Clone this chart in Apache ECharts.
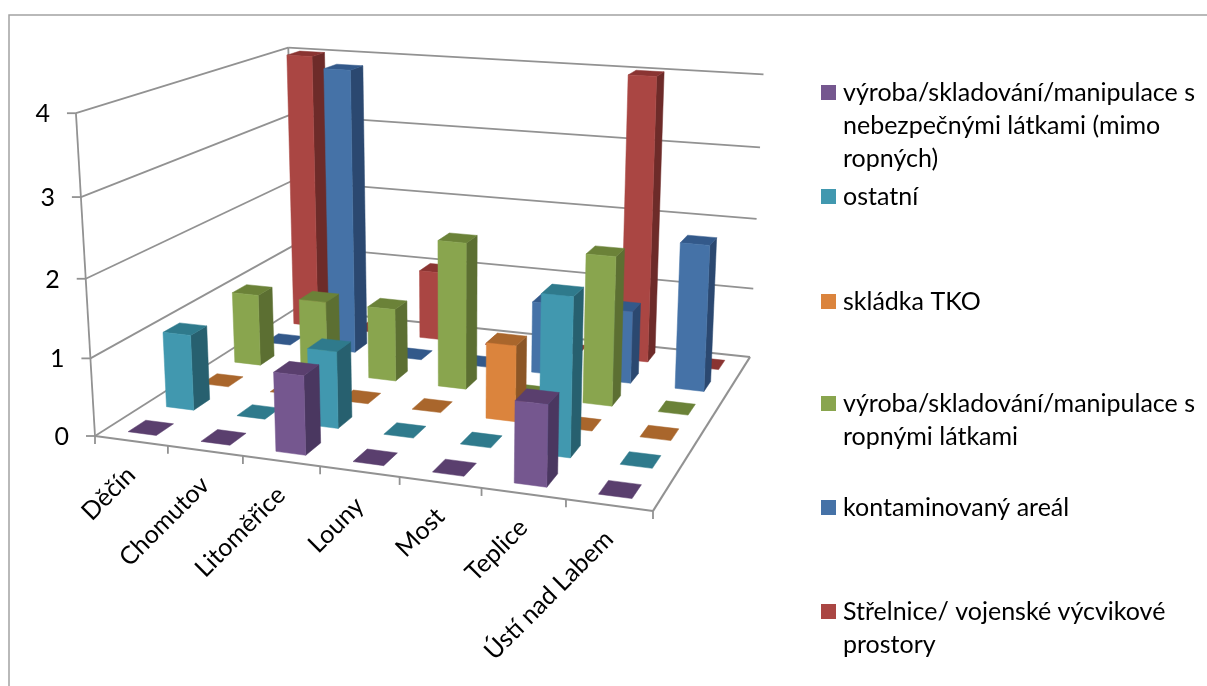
<!DOCTYPE html>
<html lang="cs">
<head>
<meta charset="utf-8">
<style>
  html, body { margin: 0; padding: 0; background: #fff; overflow: hidden; }
  #chart { width: 1207px; height: 686px; }
</style>
<script src="https://cdn.jsdelivr.net/npm/echarts@6/dist/echarts.min.js"></script>
</head>
<body>
<div id="chart"></div>
<script>
// Kategorie (okresy) a hodnoty jednotlivých řad
const categories = ['Děčín', 'Chomutov', 'Litoměřice', 'Louny', 'Most', 'Teplice', 'Ústí nad Labem'];
const valueTicks = [0, 1, 2, 3, 4];

const vyrobaNebezpecne = [0, 0, 1, 0, 0, 1, 0];
const ostatni          = [1, 0, 1, 0, 0, 2, 0];
const skladkaTko       = [0, 0, 0, 0, 1, 0, 0];
const vyrobaRopne      = [1, 1, 1, 2, 0, 2, 0];
const kontaminovany    = [0, 4, 0, 0, 1, 1, 2];
const strelnice        = [4, 0, 1, 0, 0, 4, 0];

const seriesNames = [
  'výroba/skladování/manipulace s\nnebezpečnými látkami (mimo\nropných)',
  'ostatní',
  'skládka TKO',
  'výroba/skladování/manipulace s\nropnými látkami',
  'kontaminovaný areál',
  'Střelnice/ vojenské výcvikové\nprostory'
];
const seriesValues = [vyrobaNebezpecne, ostatni, skladkaTko, vyrobaRopne, kontaminovany, strelnice];

// Barvy stěn sloupců: přední, horní, boční
const faceColors = [
  ['#75578f', '#5a3f6e', '#4a3760'],
  ['#4198af', '#2f7a8c', '#27606f'],
  ['#db843d', '#a9662c', '#8c5626'],
  ['#89a54e', '#6b8238', '#5c6f32'],
  ['#4572a7', '#33598a', '#2b4870'],
  ['#aa4643', '#8a3432', '#6d2b29']
];

const legendTops = [80, 184, 289, 391, 495, 599];

const W = 1207, H = 686;
const FONT = 'Lato, "Open Sans", sans-serif';
const AXIS_COLOR = '#929292';

// Rohy kvádru grafu v obraze: podlaha a horní hrana
const floorCorners = [[95, 436], [653, 511], [750, 357], [295, 309]];
const topCorners = [
  { x: 0, d: 0, p: [77, 113] },
  { x: 0, d: 1, p: [287, 49] },
  { x: 1, d: 1, p: [764, 73] }
];

// Perspektivní projekce podlahy (jednotkový čtverec -> čtyřúhelník)
const floor = (function () {
  const [p0, p1, p2, p3] = floorCorners;
  const sx = p0[0] - p1[0] + p2[0] - p3[0], sy = p0[1] - p1[1] + p2[1] - p3[1];
  const dx1 = p1[0] - p2[0], dx2 = p3[0] - p2[0], dy1 = p1[1] - p2[1], dy2 = p3[1] - p2[1];
  const det = dx1 * dy2 - dx2 * dy1;
  const g = (sx * dy2 - dx2 * sy) / det, h = (dx1 * sy - sx * dy1) / det;
  return {
    a: p1[0] - p0[0] + g * p1[0], b: p3[0] - p0[0] + h * p3[0], c: p0[0],
    d: p1[1] - p0[1] + g * p1[1], e: p3[1] - p0[1] + h * p3[1], f: p0[1],
    g, h
  };
})();

function floorHomog(x, d) {
  return [floor.a * x + floor.b * d + floor.c,
          floor.d * x + floor.e * d + floor.f,
          floor.g * x + floor.h * d + 1];
}

// Svislý sloupec projekce dopočítaný z horních rohů (nejmenší čtverce)
const vertical = (function () {
  const rows = [];
  topCorners.forEach(t => {
    const [u, v, w] = floorHomog(t.x, t.d);
    rows.push([1, 0, -t.p[0], t.p[0] * w - u]);
    rows.push([0, 1, -t.p[1], t.p[1] * w - v]);
  });
  const m = [[0, 0, 0, 0], [0, 0, 0, 0], [0, 0, 0, 0]];
  rows.forEach(r => {
    for (let i = 0; i < 3; i++) for (let j = 0; j < 4; j++) m[i][j] += r[i] * r[j];
  });
  for (let i = 0; i < 3; i++) {
    for (let k = i + 1; k < 3; k++) {
      const q = m[k][i] / m[i][i];
      for (let j = i; j < 4; j++) m[k][j] -= q * m[i][j];
    }
  }
  const s = [0, 0, 0];
  for (let i = 2; i >= 0; i--) {
    let t = m[i][3];
    for (let j = i + 1; j < 3; j++) t -= m[i][j] * s[j];
    s[i] = t / m[i][i];
  }
  return s;
})();

// x a d v rozsahu 0..1 (šířka, hloubka), z v rozsahu 0..1 (výška)
function project(x, d, z) {
  const [u, v, w] = floorHomog(x, d);
  const k = w + vertical[2] * z;
  return [(u + vertical[0] * z) / k, (v + vertical[1] * z) / k];
}

// Skrytá mřížka přes celé plátno převádí hodnoty na podíly os
function toUnit(api, cat, value) {
  const c = api.coord([cat, value]);
  return [c[0] / W, 1 - c[1] / H];
}

const BAR_WIDTH = 0.39;   // podíl šířky kategorie
const BAR_DEPTH = 0.45;   // podíl hloubky řady

function poly(points, fill) {
  return {
    type: 'polygon',
    shape: { points },
    style: { fill, stroke: fill, lineWidth: 0.5 }
  };
}

function barRenderer(depthIndex) {
  const colors = faceColors[depthIndex];
  return function (params, api) {
    const cat = api.value(0), val = api.value(1);
    const [cx, z] = toUnit(api, cat, val);
    const halfW = api.size([1, 0])[0] / W * BAR_WIDTH / 2;
    const dc = (depthIndex + 0.5) / seriesNames.length;
    const halfD = BAR_DEPTH / seriesNames.length / 2;
    const x0 = cx - halfW, x1 = cx + halfW, d0 = dc - halfD, d1 = dc + halfD;
    const top = poly([project(x0, d0, z), project(x1, d0, z), project(x1, d1, z), project(x0, d1, z)], colors[1]);
    if (val === 0) return { type: 'group', children: [top] };
    return {
      type: 'group',
      children: [
        poly([project(x1, d0, 0), project(x1, d1, 0), project(x1, d1, z), project(x1, d0, z)], colors[2]),
        top,
        poly([project(x0, d0, 0), project(x1, d0, 0), project(x1, d0, z), project(x0, d0, z)], colors[0])
      ]
    };
  };
}

function line(a, b, width) {
  return {
    type: 'line',
    shape: { x1: a[0], y1: a[1], x2: b[0], y2: b[1] },
    style: { stroke: AXIS_COLOR, lineWidth: width || 1.8 }
  };
}

// Stěny: vodorovné linky mřížky, značky a popisky svislé osy
function renderValueTick(params, api) {
  const value = api.value(1);
  const [, z] = toUnit(api, 0, value);
  const front = project(0, 0, z), corner = project(0, 1, z), right = project(1, 1, z);
  return {
    type: 'group',
    children: [
      line(front, corner),
      line(corner, right),
      line([front[0] - 9, front[1]], front),
      {
        type: 'text',
        style: {
          x: front[0] - 26, y: front[1] + 1,
          text: String(value),
          font: '25px ' + FONT,
          fill: '#000',
          align: 'right',
          verticalAlign: 'middle'
        }
      }
    ]
  };
}

// Podlaha: hrany, značky a šikmé popisky kategorií
function renderCategory(params, api) {
  const i = api.value(0);
  const [cx] = toUnit(api, i, 0);
  const bw = api.size([1, 0])[0] / W;
  const tick = project(cx + bw / 2, 0, 0);
  const mid = project(cx, 0, 0);
  const children = [
    line(tick, [tick[0], tick[1] + 8]),
    {
      type: 'text',
      x: mid[0], y: mid[1] + 30,
      rotation: Math.PI / 4,
      style: {
        x: 0, y: 0,
        text: categories[i],
        font: '25px ' + FONT,
        fill: '#000',
        align: 'right',
        verticalAlign: 'middle'
      }
    }
  ];
  if (i === 0) {
    children.push(line([floorCorners[0][0], floorCorners[0][1]], [floorCorners[0][0], floorCorners[0][1] + 8]));
    children.push(line(project(0, 0, 0), project(1, 0, 0), 2.2));
    children.push(line(project(1, 0, 0), project(1, 1, 0), 2.2));
    children.push(line(project(0, 0, 0), project(0, 0, 1)));
    children.push(line(project(0, 1, 0), project(0, 1, 1)));
  }
  return { type: 'group', children };
}

const barSeries = seriesNames.map((name, j) => ({
  type: 'custom',
  name,
  coordinateSystem: 'cartesian2d',
  clip: false,
  silent: true,
  renderItem: barRenderer(j),
  itemStyle: { color: faceColors[j][0] },
  encode: { x: 0, y: 1 },
  data: seriesValues[j].map((v, i) => [i, v])
})).reverse();

const legendRich = (j) => ({
  sw: { width: 15, height: 15, backgroundColor: faceColors[j][0], verticalAlign: 'middle' },
  gap: { width: 7, height: 15 },
  pad: { width: 22, height: 15 },
  t: { fontSize: 25, fontFamily: FONT, color: '#000', lineHeight: 33, verticalAlign: 'middle' }
});

const chart = echarts.init(document.getElementById('chart'), null, { renderer: 'canvas' });
chart.setOption({
  animation: false,
  backgroundColor: '#fff',
  grid: { left: 0, top: 0, width: W, height: H, containLabel: false },
  xAxis: { type: 'category', data: categories, show: false },
  yAxis: { type: 'value', min: 0, max: 4, interval: 1, show: false },
  legend: seriesNames.map((name, j) => ({
    data: [name],
    left: 816,
    top: legendTops[j],
    padding: 0,
    itemWidth: 0,
    itemHeight: 0,
    itemGap: 0,
    icon: 'rect',
    selectedMode: false,
    formatter: n => n.split('\n').map((l, k) => (k === 0 ? '{sw|}{gap|}' : '{pad|}') + '{t|' + l + '}').join('\n'),
    textStyle: { padding: 0, rich: legendRich(j) }
  })),
  graphic: [{
    type: 'polyline',
    silent: true,
    shape: { points: [[9, 690], [9, 15], [1210, 15]] },
    style: { stroke: '#a3a3a3', fill: 'none', lineWidth: 1.5 }
  }],
  series: [
    {
      type: 'custom',
      coordinateSystem: 'cartesian2d',
      clip: false,
      silent: true,
      renderItem: renderValueTick,
      encode: { x: 0, y: 1 },
      data: valueTicks.map(v => [0, v])
    },
    {
      type: 'custom',
      coordinateSystem: 'cartesian2d',
      clip: false,
      silent: true,
      renderItem: renderCategory,
      encode: { x: 0, y: 1 },
      data: categories.map((c, i) => [i, 0])
    }
  ].concat(barSeries)
});
</script>
</body>
</html>
